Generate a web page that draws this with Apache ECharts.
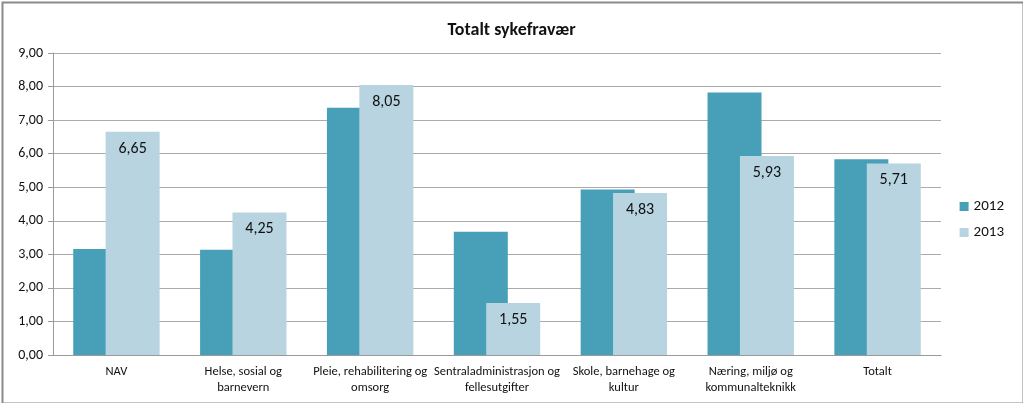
<!DOCTYPE html>
<html><head><meta charset="utf-8">
<script src="https://cdn.jsdelivr.net/npm/echarts@6/dist/echarts.min.js"></script>
<style>html,body{margin:0;padding:0;background:#fff}#c{width:1023px;height:403px}</style>
</head><body><div id="c"></div>
<script>
var categories = ['NAV', 'Helse, sosial og\nbarnevern', 'Pleie, rehabilitering og\nomsorg', 'Sentraladministrasjon og\nfellesutgifter', 'Skole, barnehage og\nkultur', 'Næring, miljø og\nkommunalteknikk', 'Totalt'];
var values2012 = [3.16, 3.14, 7.37, 3.67, 4.93, 7.82, 5.83];
var values2013 = [6.65, 4.25, 8.05, 1.55, 4.83, 5.93, 5.71];
var seriesNames = ['2012', '2013'];
var yTicks = {min: 0, max: 9, interval: 1};

var FONT = "Carlito, 'Open Sans', sans-serif";
var chart = echarts.init(document.getElementById('c'), null, {renderer: 'canvas'});
function fmt(v){ return Number(v).toFixed(2).replace('.', ','); }
chart.setOption({
  animation: false,
  backgroundColor: '#fff',
  textStyle: {fontFamily: FONT},
  graphic: [{type: 'rect', left: 0, top: 0, z: -1, shape: {x: 1, y: 1, width: 1021, height: 401}, style: {fill: 'none', stroke: '#8a8a8a', lineWidth: 2}}],
  title: {text: 'Totalt sykefravær', left: 'center', top: 16, textStyle: {fontFamily: FONT, fontSize: 18, fontWeight: 'bold', color: '#111'}},
  legend: {orient: 'vertical', right: 14, top: 194, itemWidth: 9, itemHeight: 9, itemGap: 11, icon: 'rect',
    textStyle: {fontFamily: FONT, fontSize: 15, color: '#111'}, data: seriesNames},
  grid: {left: 53, right: 82, top: 53, bottom: 48},
  xAxis: {type: 'category', data: categories,
    axisLine: {lineStyle: {color: '#9a9a9a', width: 1}}, axisTick: {show: false},
    axisLabel: {fontFamily: FONT, fontSize: 12.5, color: '#111', margin: 9, lineHeight: 16, interval: 0}},
  yAxis: {type: 'value', min: yTicks.min, max: yTicks.max, interval: yTicks.interval,
    axisLine: {show: true, lineStyle: {color: '#9a9a9a'}},
    axisTick: {show: true, length: 5, lineStyle: {color: '#9a9a9a'}},
    splitLine: {lineStyle: {color: '#ababab', width: 1}},
    axisLabel: {fontFamily: FONT, fontSize: 14, color: '#111', margin: 10, formatter: fmt}},
  series: [
    {name: seriesNames[0], type: 'bar', data: values2012, barWidth: 54, barGap: '-40%',
      itemStyle: {color: '#47a0b8'}},
    {name: seriesNames[1], type: 'bar', data: values2013, barWidth: 54, barGap: '-40%',
      itemStyle: {color: '#b7d4e0'},
      label: {show: true, position: 'insideTop', distance: 9, fontFamily: FONT, fontSize: 16, color: '#111', formatter: function(p){return fmt(p.value);}}}
  ]
});
</script></body></html>
